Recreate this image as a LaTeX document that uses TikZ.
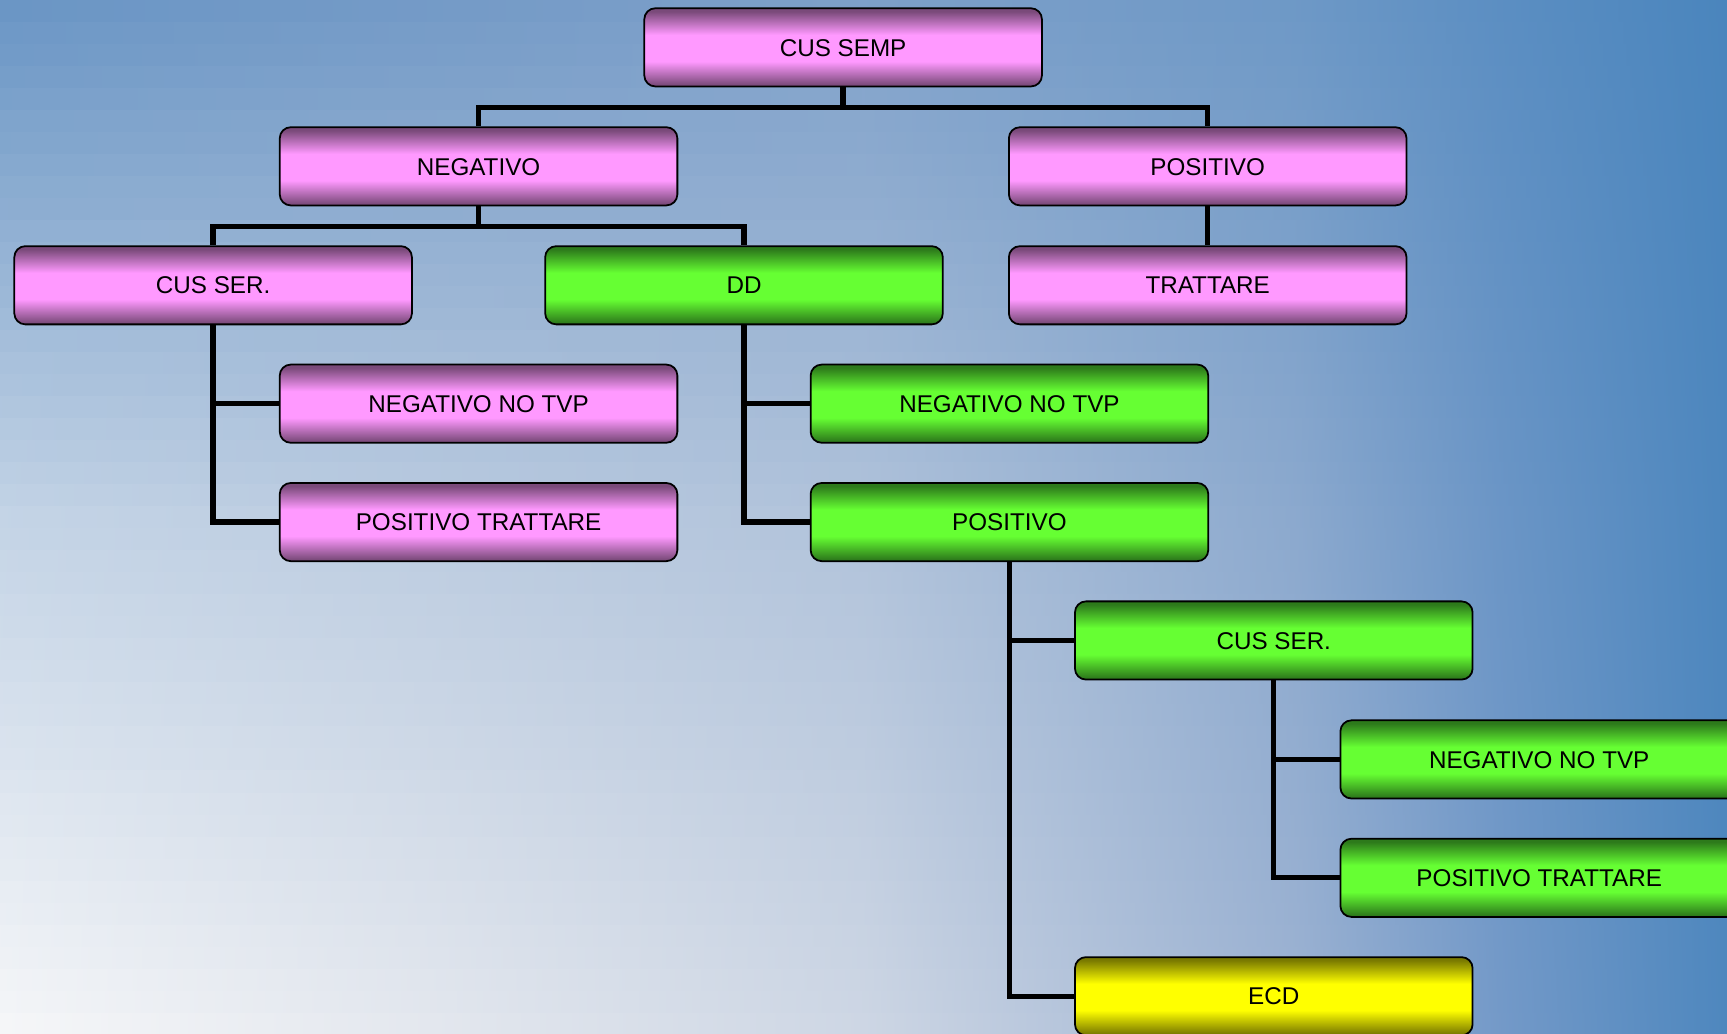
\documentclass[tikz,border=0pt]{standalone}
\usepackage{fontspec}
\setmainfont{Liberation Sans}
\definecolor{b0}{HTML}{F5F6F8}\definecolor{b1}{HTML}{E3E7EE}\definecolor{b2}{HTML}{CDD6E4}
\definecolor{b3}{HTML}{9CB2D2}\definecolor{b4}{HTML}{7399C8}\definecolor{b5}{HTML}{4E87BE}
\definecolor{t0}{HTML}{6894C4}\definecolor{t1}{HTML}{7299C6}\definecolor{t2}{HTML}{7C9FC9}
\definecolor{t3}{HTML}{6D98C6}\definecolor{t4}{HTML}{5B8EC2}\definecolor{t5}{HTML}{4A85BD}
\definecolor{pkd}{HTML}{7A4A7A}\definecolor{pkb}{HTML}{FF99FF}
\definecolor{grd}{HTML}{2D7A1B}\definecolor{grb}{HTML}{66FF33}
\definecolor{yld}{HTML}{7A7A00}\definecolor{ylb}{HTML}{FFFF00}
\pgfdeclareverticalshading{pinksh}{100bp}{color(0bp)=(pkd); color(26bp)=(pkd); color(41bp)=(pkb); color(58bp)=(pkb); color(73bp)=(pkd); color(100bp)=(pkd)}
\pgfdeclareverticalshading{greensh}{100bp}{color(0bp)=(grd); color(26bp)=(grd); color(41bp)=(grb); color(58bp)=(grb); color(73bp)=(grd); color(100bp)=(grd)}
\pgfdeclareverticalshading{yellowsh}{100bp}{color(0bp)=(yld); color(26bp)=(yld); color(41bp)=(ylb); color(58bp)=(ylb); color(73bp)=(yld); color(100bp)=(yld)}
\tikzset{
  box/.style={rounded corners=10pt, draw=black, line width=1.6pt,
    minimum width=361pt, minimum height=71pt, inner sep=0pt,
    text height=15.8pt, text depth=0pt,
    font=\fontsize{22}{24}\selectfont},
  pinkbox/.style={box, shade, shading=pinksh},
  greenbox/.style={box, shade, shading=greensh},
  yellowbox/.style={box, shade, shading=yellowsh},
  conn/.style={draw=black, line width=4.8pt, line join=miter}
}
\begin{document}
\begin{tikzpicture}[x=1pt,y=-1pt]
\useasboundingbox (0,0) rectangle (1568,938);
\clip (0,0) rectangle (1568,938);
% background
\foreach \i in {0,...,46}{
  \pgfmathsetmacro\yy{20*\i}
  \pgfmathsetmacro\vv{1-(\yy+10)/938}
  \pgfmathtruncatemacro\ww{\vv<0.5 ? 72*\vv : 36+128*(\vv-0.5)}
  \colorlet{s0}{t0!\ww!b0}\colorlet{s1}{t1!\ww!b1}\colorlet{s2}{t2!\ww!b2}
  \colorlet{s3}{t3!\ww!b3}\colorlet{s4}{t4!\ww!b4}\colorlet{s5}{t5!\ww!b5}
  \pgfdeclarehorizontalshading{bgs\i}{100bp}{color(0bp)=(s0); color(25bp)=(s0); color(37.5bp)=(s1); color(50bp)=(s2); color(62.5bp)=(s3); color(68.5bp)=(s4); color(75bp)=(s5); color(100bp)=(s5)}
  \shade[shading=bgs\i] (0,\yy) rectangle (1568,\yy+21);
}
% nodes
\node[pinkbox] (semp) at (765.5,43) {CUS SEMP};
\node[pinkbox] (neg) at (434.5,151) {NEGATIVO};
\node[pinkbox] (pos) at (1096.5,151) {POSITIVO};
\node[pinkbox] (cser) at (193.5,259) {CUS SER.};
\node[greenbox] (dd) at (675.5,259) {DD};
\node[pinkbox] (tratt) at (1096.5,259) {TRATTARE};
\node[pinkbox] (negnt) at (434.5,366.5) {NEGATIVO NO TVP};
\node[pinkbox] (postr) at (434.5,474) {POSITIVO TRATTARE};
\node[greenbox] (ddneg) at (916.5,366.5) {NEGATIVO NO TVP};
\node[greenbox] (ddpos) at (916.5,474) {POSITIVO};
\node[greenbox] (cser2) at (1156.5,581.5) {CUS SER.};
\node[greenbox] (neg3) at (1397.5,689.5) {NEGATIVO NO TVP};
\node[greenbox] (pos3) at (1397.5,797) {POSITIVO TRATTARE};
\node[yellowbox] (ecd) at (1156.5,904.5) {ECD};
% connectors
\draw[conn] (semp.south) -- ++(0,18.5) -| (neg.north);
\draw[conn] (semp.south) -- ++(0,18.5) -| (pos.north);
\draw[conn] (neg.south) -- ++(0,18.5) -| (cser.north);
\draw[conn] (neg.south) -- ++(0,18.5) -| (dd.north);
\draw[conn] (pos.south) -- (tratt.north);
\draw[conn] (cser.south) |- (negnt.west);
\draw[conn] (cser.south) |- (postr.west);
\draw[conn] (dd.south) |- (ddneg.west);
\draw[conn] (dd.south) |- (ddpos.west);
\draw[conn] (ddpos.south) |- (cser2.west);
\draw[conn] (ddpos.south) |- (ecd.west);
\draw[conn] (cser2.south) |- (neg3.west);
\draw[conn] (cser2.south) |- (pos3.west);
\end{tikzpicture}
\end{document}
